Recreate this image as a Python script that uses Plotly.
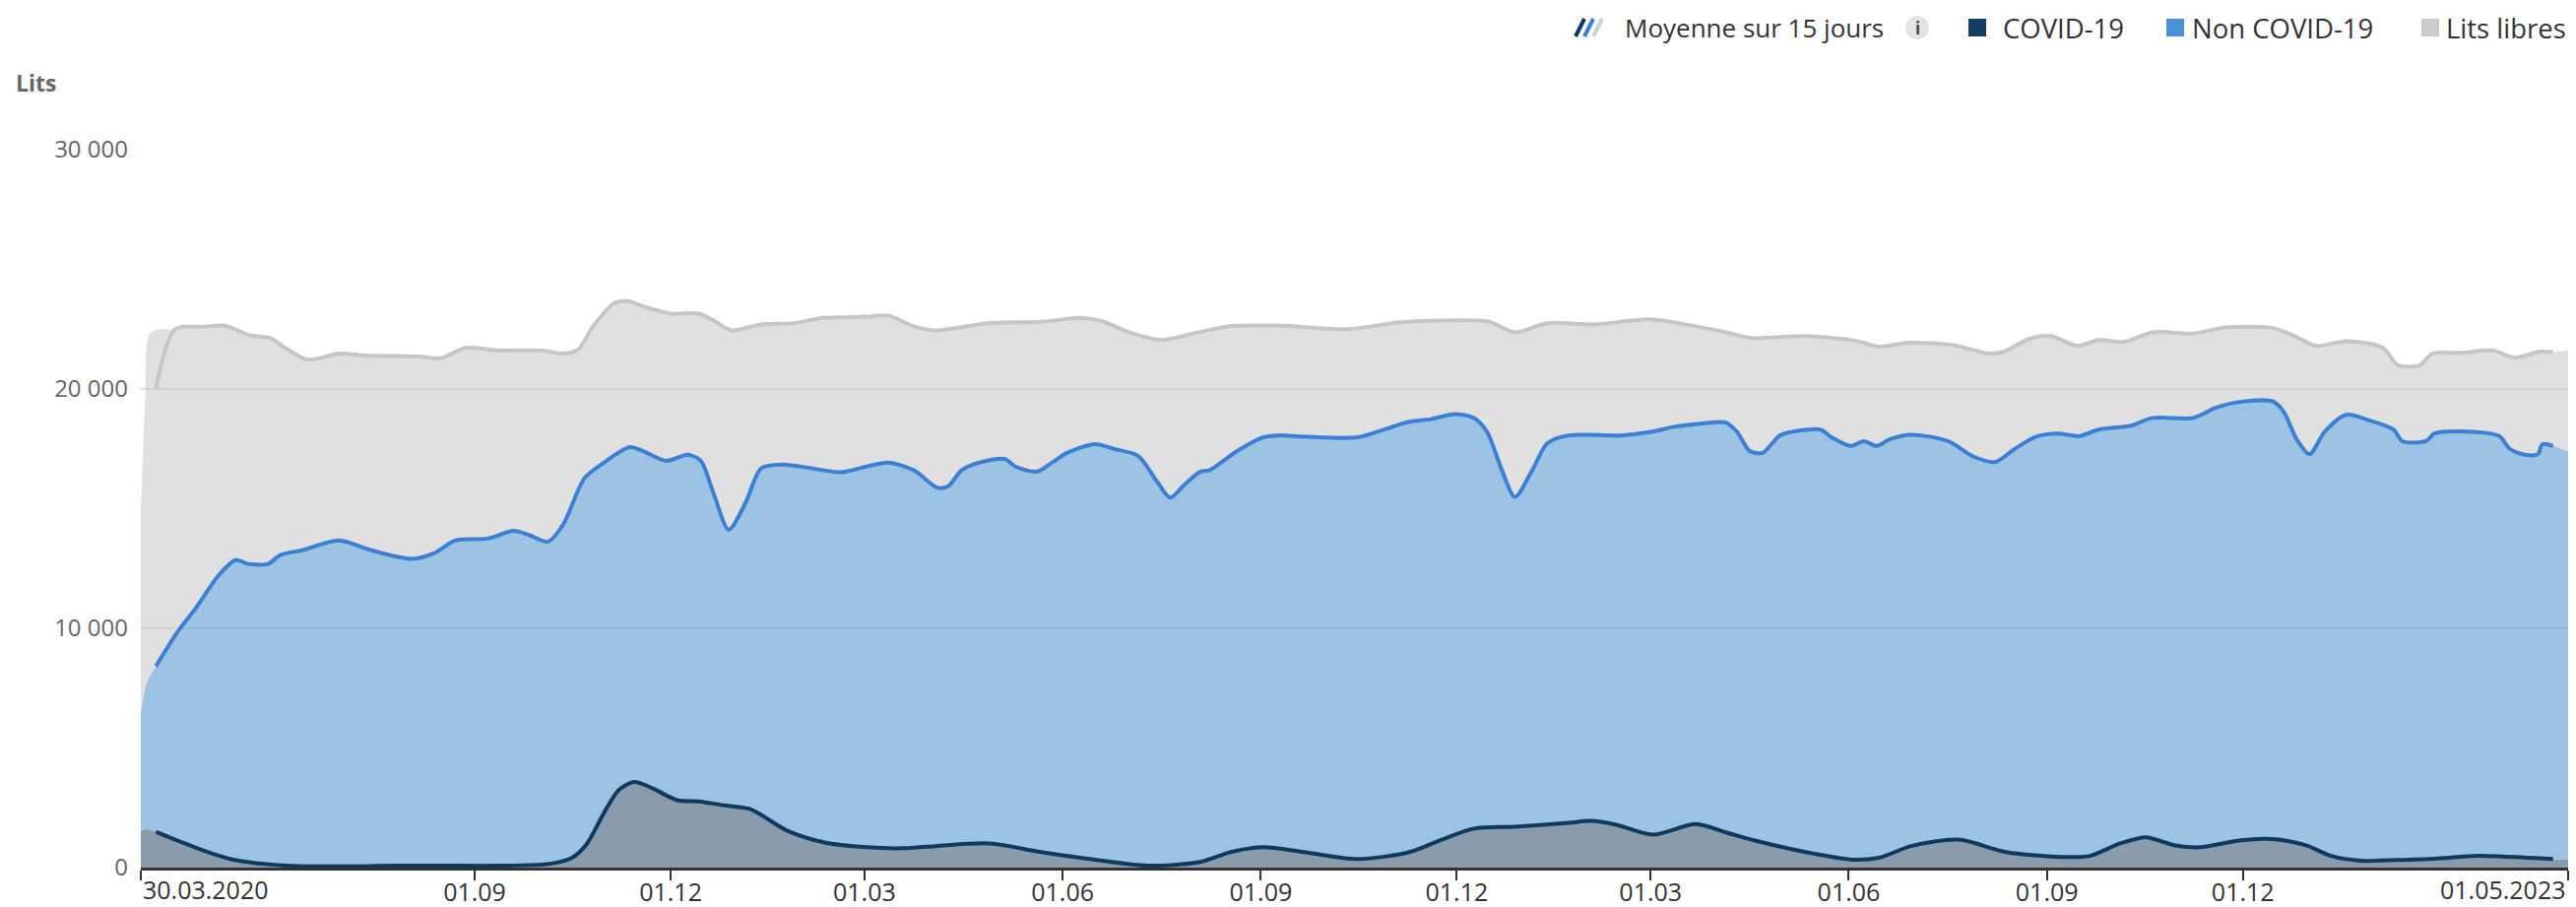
import plotly.graph_objects as go

# ---------------- data ----------------
# 15-day average of COVID-19 beds
covid_dates = ["2020-04-06","2020-04-18","2020-04-30","2020-05-12","2020-06-06","2020-06-30","2020-07-25",
    "2020-08-18","2020-09-12","2020-10-06","2020-10-16","2020-10-23","2020-10-31","2020-11-07","2020-11-14",
    "2020-11-22","2020-12-04","2020-12-14","2020-12-26","2021-01-07","2021-01-24","2021-02-10","2021-03-02",
    "2021-03-19","2021-04-03","2021-04-28","2021-05-22","2021-06-16","2021-07-10","2021-08-04","2021-08-18",
    "2021-09-02","2021-09-21","2021-10-16","2021-11-09","2021-11-24","2021-12-09","2021-12-28","2022-01-22",
    "2022-02-01","2022-02-13","2022-03-02","2022-03-22","2022-04-05","2022-04-18","2022-05-12","2022-06-03",
    "2022-06-15","2022-06-30","2022-07-22","2022-08-13","2022-09-11","2022-09-21","2022-10-05","2022-10-17",
    "2022-10-30","2022-11-11","2022-11-30","2022-12-15","2022-12-30","2023-01-11","2023-01-25","2023-02-16",
    "2023-02-28","2023-03-20","2023-04-01","2023-04-24"]
covid_avg = [1500,1060,650,330,80,50,80,
    80,80,160,400,980,2280,3250,3580,
    3340,2820,2770,2600,2440,1550,1060,850,
    810,900,1010,650,330,80,240,650,
    850,650,360,650,1170,1630,1710,1870,
    1950,1790,1380,1820,1470,1140,650,330,
    410,900,1170,650,440,490,1010,1270,
    940,850,1140,1190,940,490,290,330,
    370,490,460,360]

# 15-day average of occupied beds (COVID-19 + Non COVID-19, stacked)
occupied_dates = ["2020-04-06","2020-04-16","2020-04-25","2020-05-05","2020-05-13","2020-05-19","2020-05-28",
    "2020-06-03","2020-06-13","2020-06-30","2020-07-15","2020-08-03","2020-08-13","2020-08-23","2020-09-07",
    "2020-09-19","2020-09-26","2020-10-05","2020-10-12","2020-10-22","2020-10-31","2020-11-12","2020-11-18",
    "2020-11-29","2020-12-09","2020-12-15","2020-12-21","2020-12-28","2021-01-05","2021-01-12","2021-01-22",
    "2021-02-05","2021-02-18","2021-03-02","2021-03-12","2021-03-24","2021-04-04","2021-04-09","2021-04-15",
    "2021-04-23","2021-05-05","2021-05-10","2021-05-20","2021-05-27","2021-06-03","2021-06-16","2021-06-25",
    "2021-07-06","2021-07-15","2021-07-21","2021-07-27","2021-08-04","2021-08-08","2021-08-21","2021-09-02",
    "2021-09-09","2021-09-21","2021-10-16","2021-10-28","2021-11-09","2021-11-19","2021-11-30","2021-12-09",
    "2021-12-15","2021-12-22","2021-12-28","2022-01-05","2022-01-12","2022-01-22","2022-02-15","2022-03-02",
    "2022-03-12","2022-03-24","2022-04-05","2022-04-10","2022-04-16","2022-04-22","2022-04-30","2022-05-09",
    "2022-05-19","2022-05-24","2022-06-02","2022-06-08","2022-06-14","2022-06-20","2022-06-30","2022-07-17",
    "2022-07-29","2022-08-08","2022-08-17","2022-08-27","2022-09-06","2022-09-16","2022-09-25","2022-10-10",
    "2022-10-20","2022-11-08","2022-11-18","2022-11-28","2022-12-15","2022-12-20","2022-12-26","2023-01-01",
    "2023-01-08","2023-01-18","2023-01-28","2023-02-09","2023-02-13","2023-02-24","2023-02-28","2023-03-15",
    "2023-03-30","2023-04-04","2023-04-11","2023-04-17","2023-04-19","2023-04-24"]
occupied_avg = [8410,9840,10900,12200,12850,12690,12690,
    13070,13260,13670,13260,12900,13130,13670,13750,
    14070,13910,13620,14320,16270,16920,17570,17410,
    17000,17250,17000,15620,14120,15290,16680,16840,
    16680,16520,16760,16920,16600,15870,15950,16600,
    16920,17080,16760,16550,16920,17330,17700,17490,
    17210,16110,15460,15950,16550,16600,17410,17980,
    18060,18010,17980,18300,18630,18740,18950,18790,
    18220,16600,15490,16600,17730,18060,18060,18220,
    18420,18550,18600,18220,17410,17330,18060,18260,
    18300,17980,17620,17820,17620,17900,18090,17820,
    17170,16950,17490,18010,18140,18030,18300,18470,
    18790,18790,19200,19440,19480,19040,17900,17280,
    18220,18920,18710,18300,17820,17820,18140,18220,
    18030,17490,17250,17280,17690,17620]

# 15-day average of all beds (occupied + Lits libres, stacked)
total_dates = ["2020-04-06","2020-04-15","2020-04-29","2020-05-07","2020-05-12","2020-05-19","2020-05-29",
    "2020-06-05","2020-06-15","2020-06-22","2020-06-30","2020-07-12","2020-08-06","2020-08-16","2020-08-28",
    "2020-09-12","2020-10-02","2020-10-12","2020-10-19","2020-10-26","2020-11-05","2020-11-11","2020-11-19",
    "2020-12-01","2020-12-14","2020-12-21","2020-12-29","2021-01-12","2021-01-27","2021-02-10","2021-03-02",
    "2021-03-12","2021-03-24","2021-04-03","2021-04-27","2021-05-22","2021-06-10","2021-06-20","2021-07-02",
    "2021-07-17","2021-08-03","2021-08-18","2021-09-09","2021-10-11","2021-11-04","2021-11-24","2021-12-16",
    "2021-12-28","2022-01-12","2022-02-03","2022-02-28","2022-03-17","2022-04-05","2022-04-17","2022-05-12",
    "2022-06-05","2022-06-15","2022-06-29","2022-07-19","2022-08-05","2022-08-12","2022-08-24","2022-09-03",
    "2022-09-15","2022-09-25","2022-10-07","2022-10-20","2022-11-08","2022-11-23","2022-12-15","2022-12-25",
    "2023-01-04","2023-01-18","2023-02-04","2023-02-11","2023-02-21","2023-02-27","2023-03-12","2023-03-27",
    "2023-04-06","2023-04-18","2023-04-24"]
total_avg = [20000,22500,22600,22650,22530,22260,22130,
    21720,21230,21310,21480,21400,21360,21280,21720,
    21610,21610,21480,21640,22620,23590,23670,23430,
    23150,23150,22860,22450,22700,22750,22970,23020,
    23070,22620,22450,22750,22810,22970,22810,22370,
    22050,22370,22620,22650,22500,22780,22860,22810,
    22370,22750,22700,22910,22700,22370,22130,22210,
    22000,21770,21930,21840,21480,21560,22100,22210,
    21800,22050,21970,22370,22320,22570,22540,22210,
    21800,22000,21720,20990,20990,21480,21510,21610,
    21310,21560,21540]

# daily values at the two ends of the period (where the 15-day average is not drawn)
covid_start_dates = ["2020-03-30", "2020-04-02"]
covid_start = [1550, 1600]
covid_end_dates = ["2023-05-01"]
covid_end = [330]
occupied_start_dates = ["2020-03-30", "2020-04-02"]
occupied_start = [6500, 7800]
occupied_end_dates = ["2023-04-28", "2023-05-01"]
occupied_end = [17500, 17400]
total_start_dates = ["2020-03-30", "2020-04-01", "2020-04-03", "2020-04-08"]
total_start = [15000, 19500, 22300, 22500]
total_end_dates = ["2023-05-01"]
total_end = [21600]

tick_dates = ["2020-03-30","2020-09-01","2020-12-01","2021-03-01","2021-06-01","2021-09-01","2021-12-01",
              "2022-03-01","2022-06-01","2022-09-01","2022-12-01","2023-05-01"]
tick_labels = ["30.03.2020","01.09","01.12","01.03","01.06","01.09","01.12",
               "01.03","01.06","01.09","01.12","01.05.2023"]
y_ticks = [0, 10000, 20000, 30000]
y_tick_labels = ["0", "10 000", "20 000", "30 000"]

# ---------------- styling ----------------
W, H = 2616, 921
L, R, T, B = 143, 2608, 152, 881
FONT = "Open Sans"
XFS = 25
C_COVID_LINE, C_COVID_FILL = "#0f3a60", "#8a9bab"
C_NON_LINE, C_NON_FILL = "#3b80d4", "rgba(106,164,214,0.66)"
C_FREE_LINE, C_FREE_FILL = "#c6c6c6", "rgba(208,208,208,0.66)"


def xp(px):
    return (px - L) / (R - L)


def yp(py):
    return (B - py) / (B - T)


def edge_series(sd, sv, dates, vals, ed, ev):
    xs, ys = list(sd), list(sv)
    for d, v in zip(dates, vals):
        if sd[-1] < d < ed[0]:
            xs.append(d)
            ys.append(v)
    return xs + list(ed), ys + list(ev)


fig = go.Figure()

cx, cy = edge_series(covid_start_dates, covid_start, covid_dates, covid_avg, covid_end_dates, covid_end)
ox, oy = edge_series(occupied_start_dates, occupied_start, occupied_dates, occupied_avg, occupied_end_dates, occupied_end)
tx, ty = edge_series(total_start_dates, total_start, total_dates, total_avg, total_end_dates, total_end)

fig.add_trace(go.Scatter(x=cx, y=cy, mode="lines", line=dict(width=0, shape="spline", smoothing=0.8),
                         fill="tozeroy", fillcolor=C_COVID_FILL, name="COVID-19", hoverinfo="skip"))
fig.add_trace(go.Scatter(x=ox, y=oy, mode="lines", line=dict(width=0, shape="spline", smoothing=0.8),
                         fill="tonexty", fillcolor=C_NON_FILL, name="Non COVID-19", hoverinfo="skip"))
fig.add_trace(go.Scatter(x=tx, y=ty, mode="lines", line=dict(width=0, shape="spline", smoothing=0.8),
                         fill="tonexty", fillcolor=C_FREE_FILL, name="Lits libres", hoverinfo="skip"))

fig.add_trace(go.Scatter(x=total_dates, y=total_avg, mode="lines",
                         line=dict(color=C_FREE_LINE, width=4, shape="spline", smoothing=0.8),
                         name="Moyenne Lits libres"))
fig.add_trace(go.Scatter(x=occupied_dates, y=occupied_avg, mode="lines",
                         line=dict(color=C_NON_LINE, width=4, shape="spline", smoothing=0.8),
                         name="Moyenne Non COVID-19"))
fig.add_trace(go.Scatter(x=covid_dates, y=covid_avg, mode="lines",
                         line=dict(color=C_COVID_LINE, width=4, shape="spline", smoothing=0.8),
                         name="Moyenne COVID-19"))

fig.update_layout(
    width=W, height=H, autosize=False,
    margin=dict(l=L, r=W - R, t=T, b=H - B, autoexpand=False),
    paper_bgcolor="white", plot_bgcolor="white",
    showlegend=False,
    font=dict(family=FONT, size=24, color="#333333"),
    xaxis=dict(type="date", range=["2020-03-30", "2023-05-01"],
               tickvals=tick_dates,
               ticktext=[""] + tick_labels[1:-1] + [""],
               ticks="outside", ticklen=10, tickwidth=2, tickcolor="#333333",
               ticklabelstandoff=-9,
               showline=True, linecolor="#333333", linewidth=3,
               showgrid=False, zeroline=False, automargin=False,
               tickfont=dict(family=FONT, size=XFS, color="#333333")),
    yaxis=dict(range=[0, 30000], tickvals=y_ticks, ticktext=y_tick_labels,
               showgrid=True, gridcolor="#d9d9d9", gridwidth=2, zeroline=False,
               ticks="", ticklabelstandoff=12, automargin=False,
               tickfont=dict(family=FONT, size=24, color="#666666")),
)

ann = []
# first / last x labels aligned to the plot edges
ann.append(dict(xref="paper", yref="paper", x=0, y=yp(903), text=tick_labels[0], showarrow=False,
                xanchor="left", yanchor="middle", font=dict(family=FONT, size=XFS, color="#333333")))
ann.append(dict(xref="paper", yref="paper", x=1, y=yp(903), text=tick_labels[-1], showarrow=False,
                xanchor="right", yanchor="middle", font=dict(family=FONT, size=XFS, color="#333333")))
# axis title
ann.append(dict(xref="paper", yref="paper", x=xp(14), y=yp(84), text="<b>Lits</b>", showarrow=False,
                xanchor="left", yanchor="middle", font=dict(family=FONT, size=23, color="#666666")))

# custom legend
LY = 28
legend_texts = [("Moyenne sur 15 jours", 1648, 26), ("COVID-19", 2032, 27.5),
                ("Non COVID-19", 2224, 27.5), ("Lits libres", 2482, 27.5)]
for txt, x0, fs in legend_texts:
    ann.append(dict(xref="paper", yref="paper", x=xp(x0), y=yp(LY), text=txt, showarrow=False,
                    xanchor="left", yanchor="middle", font=dict(family=FONT, size=fs, color="#333333")))
ann.append(dict(xref="paper", yref="paper", x=xp(1947), y=yp(LY), text="<b>i</b>", showarrow=False,
                xanchor="center", yanchor="middle", font=dict(family=FONT, size=17, color="#444444")))

shapes = []
for i, col in enumerate([C_COVID_LINE, C_NON_LINE, "#c9d3dd"]):
    x0 = 1600 + i * 9
    shapes.append(dict(type="line", xref="paper", yref="paper", x0=xp(x0), y0=yp(37), x1=xp(x0 + 9), y1=yp(19),
                       line=dict(color=col, width=4)))
shapes.append(dict(type="circle", xref="paper", yref="paper", x0=xp(1935), x1=xp(1959), y0=yp(40), y1=yp(16),
                   fillcolor="#e4e4e4", line=dict(width=0)))
for x0, col in [(1999, "#133d62"), (2200, "#4a90d9"), (2459, "#cccccc")]:
    shapes.append(dict(type="rect", xref="paper", yref="paper", x0=xp(x0), x1=xp(x0 + 18), y0=yp(37), y1=yp(19),
                       fillcolor=col, line=dict(width=0)))

fig.update_layout(annotations=ann, shapes=shapes)
fig.write_html("out.html", config={"displayModeBar": False},
               post_script="document.body.style.margin='0px';document.body.style.overflow='hidden';")
